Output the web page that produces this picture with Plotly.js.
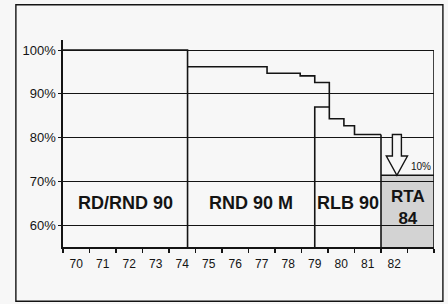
<!DOCTYPE html>
<html>
<head>
<meta charset="utf-8">
<script src="https://cdn.plot.ly/plotly-3.0.1.min.js"></script>
<style>html,body{margin:0;padding:0;background:#f7f7f7;}#chart{width:448px;height:304px;}</style>
</head>
<body>
<div id="chart"></div>
<script>
// ---- data ----
const yearLabels = ['70','71','72','73','74','75','76','77','78','79','80','81','82'];
const eraNames = ['RD/RND 90', 'RND 90 M', 'RLB 90', 'RTA<br>84'];
const eraStart = [70, 74.7, 79.5, 82.0];
const eraEnd = 84;
const rdLevel = 100;
const rndYears = [74.7, 77.7, 78.95, 79.5, 80.05, 80.6, 81.0, 82.0];
const rndLevels = [96.2, 94.7, 94.1, 92.6, 84.3, 82.7, 80.7, 80.7];
const rlbYears = [79.5, 80.05];
const rlbLevel = 87.0;
const rtaLevel = 71.4;
const dropLabel = '10%';
const yTicks = [60, 70, 80, 90, 100];
const yMin = 55, yMax = 102.3;

const ink = '#141414';
const lw = 1.6;
const line = {color: ink, width: lw};

const traces = [
  {x: [eraStart[0], eraStart[1], eraStart[1]], y: [rdLevel, rdLevel, yMin], mode: 'lines', line: line},
  {x: rndYears, y: rndLevels, mode: 'lines', line: Object.assign({shape: 'hv'}, line)},
  {x: [rlbYears[0], rlbYears[0], rlbYears[1]], y: [yMin, rlbLevel, rlbLevel], mode: 'lines', line: line},
  {x: [eraStart[3], eraStart[3]], y: [rndLevels[rndLevels.length - 1], yMin], mode: 'lines', line: line},
  {x: [eraStart[3], eraEnd], y: [rtaLevel, rtaLevel], mode: 'lines', line: line}
];

// arrow geometry derived from data
const ax = (eraStart[3] + eraEnd) / 2 - 0.4;
const aTop = rndLevels[rndLevels.length - 1];
const aTip = rtaLevel;
const headH = 4.4, sw = 0.17, hw = 0.4;
const arrowPath = 'M' + (ax - sw) + ',' + aTop + ' L' + (ax + sw) + ',' + aTop +
  ' L' + (ax + sw) + ',' + (aTip + headH) + ' L' + (ax + hw) + ',' + (aTip + headH) +
  ' L' + ax + ',' + aTip + ' L' + (ax - hw) + ',' + (aTip + headH) +
  ' L' + (ax - sw) + ',' + (aTip + headH) + ' Z';

const shapes = [
  {type: 'rect', xref: 'x', yref: 'y', x0: eraStart[3], x1: eraEnd, y0: yMin, y1: rtaLevel,
   fillcolor: '#d3d3d3', line: {width: 0}, layer: 'below'},
  {type: 'line', xref: 'x', yref: 'y', x0: eraEnd, x1: eraEnd, y0: yMin, y1: 100, line: line},
  {type: 'path', xref: 'x', yref: 'y', path: arrowPath, fillcolor: '#f7f7f7', line: {color: ink, width: 1.4}},
  {type: 'rect', xref: 'paper', yref: 'paper', x0: -0.127, x1: 1.024, y0: -0.262, y1: 1.17,
   line: {color: ink, width: 1.4}, fillcolor: 'rgba(0,0,0,0)'}
];

const annotations = eraNames.map((t, i) => {
  const x1 = i < eraStart.length - 1 ? eraStart[i + 1] : eraEnd;
  const last = i === eraNames.length - 1;
  return {x: (eraStart[i] + x1) / 2, y: last ? 64.0 : 65.0, xref: 'x', yref: 'y', text: '<b>' + t + '</b>',
    showarrow: false, font: {family: 'Liberation Sans, Arial, sans-serif', size: last ? 17 : 18, color: ink}};
});
annotations.push({x: ax + 0.9, y: aTip + 1.9, xref: 'x', yref: 'y', text: dropLabel, showarrow: false,
  font: {family: 'Liberation Sans, Arial, sans-serif', size: 10, color: ink}});

const layout = {
  width: 448, height: 304,
  margin: {l: 63, r: 14, t: 40, b: 57},
  paper_bgcolor: '#f7f7f7', plot_bgcolor: 'rgba(0,0,0,0)',
  showlegend: false,
  font: {family: 'Liberation Sans, Arial, sans-serif', color: ink},
  xaxis: {
    range: [eraStart[0], eraEnd], showgrid: false, zeroline: false,
    showline: true, linecolor: ink, linewidth: lw,
    tickmode: 'array', tickvals: yearLabels.map((_, i) => eraStart[0] + i + 0.5), ticktext: yearLabels,
    ticks: '', ticklabelstandoff: 5, tickfont: {size: 12, color: ink},
    minor: {dtick: 1, tick0: eraStart[0], ticks: 'outside', ticklen: 4, tickwidth: 1.2, tickcolor: ink, showgrid: false}
  },
  yaxis: {
    range: [yMin, yMax], tickmode: 'array', tickvals: yTicks, ticktext: yTicks.map(v => v + '%'),
    showgrid: true, gridcolor: ink, gridwidth: 1, zeroline: false,
    showline: true, linecolor: ink, linewidth: lw,
    ticks: 'outside', ticklen: 3, tickcolor: ink, tickfont: {size: 13, color: ink}
  },
  shapes: shapes,
  annotations: annotations
};

Plotly.newPlot('chart', traces, layout, {staticPlot: true, displayModeBar: false});
</script>
</body>
</html>
